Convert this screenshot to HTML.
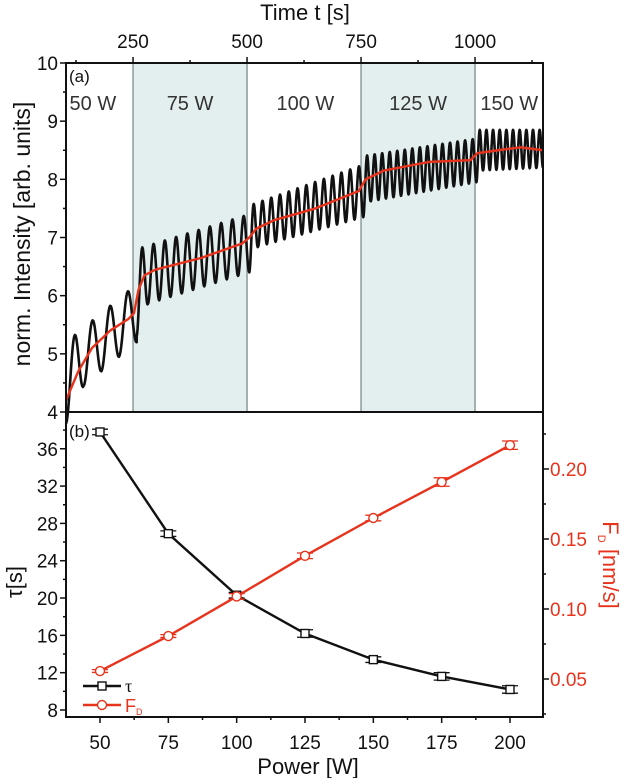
<!DOCTYPE html>
<html><head><meta charset="utf-8"><style>
html,body{margin:0;padding:0;background:#fff;}
svg{display:block;font-family:"Liberation Sans",Arial,sans-serif;}
</style></head><body>
<svg id="chart" width="630" height="778" viewBox="0 0 630 778" xmlns="http://www.w3.org/2000/svg">
<g id="topPanel"></g>
<g id="botPanel"></g>
</svg>
<script>
// ---------- Panel (a) data ----------
const regionStarts = [250, 750];
const regionEnds = [500, 1000];
const dividerTimes = [250, 500, 750, 1000];
const powerLabels = ["50 W", "75 W", "100 W", "125 W", "150 W"];
const powerLabelTimes = [162, 375, 628, 875, 1075];
const timeTicks = [250, 500, 750, 1000];
const intensityTicks = [4, 5, 6, 7, 8, 9, 10];
// oscillation segments
const segStart = [103, 258, 505, 755, 1003];
const segEnd = [258, 505, 755, 1003, 1149];
const segCycles = [4, 10, 13, 15, 10];
const entryLow = [3.8, 5.3, 6.4, 7.35, 7.95];
const lowerStart = [4.2, 5.8, 6.8, 7.6, 8.15];
const lowerEnd = [5.2, 6.4, 7.35, 7.95, 8.2];
const upperStart = [5.2, 6.8, 7.55, 8.4, 8.85];
const upperEnd = [6.2, 7.4, 8.25, 8.7, 8.85];
// mean (red) curve
const meanTimes = [103,130,160,200,240,252,262,275,300,400,490,505,520,560,650,745,760,800,900,990,1005,1050,1100,1149];
const meanVals = [4.2,4.7,5.1,5.4,5.6,5.7,6.1,6.35,6.45,6.65,6.9,7.0,7.15,7.3,7.5,7.8,8.0,8.15,8.3,8.33,8.45,8.5,8.55,8.5];

// ---------- Panel (b) data ----------
const powers = [50, 75, 100, 125, 150, 175, 200];
const tauVals = [37.8, 26.9, 20.3, 16.2, 13.4, 11.6, 10.2];
const tauErr = [0.3, 0.3, 0.3, 0.4, 0.3, 0.4, 0.4];
const fdVals = [0.0557, 0.0807, 0.109, 0.138, 0.165, 0.1907, 0.217];
const fdErr = [0.001, 0.001, 0.002, 0.002, 0.002, 0.003, 0.003];
const powerTicks = [50, 75, 100, 125, 150, 175, 200];
const tauTicks = [8, 12, 16, 20, 24, 28, 32, 36];
const fdTicks = [0.05, 0.10, 0.15, 0.20];

const NS = "http://www.w3.org/2000/svg";
const RED = "#e8331c";
const L = 66, R = 543, TT = 63, TB = 412, BB = 717;
const FS = 19;
function el(parent, tag, attrs, text){
  const e = document.createElementNS(NS, tag);
  for (const k in attrs) e.setAttribute(k, attrs[k]);
  if (text !== undefined) e.textContent = text;
  parent.appendChild(e);
  return e;
}
const xT = t => L + (t - 103) * (R - L) / (1149 - 103);
const yI = v => TT + (10 - v) * (TB - TT) / 6;
const xP = p => 100 + (p - 50) * (510 - 100) / 150;
const yTau = v => 710 - (v - 8) * 9.33;
const yFD = v => 679 - (v - 0.05) * 1400;

const topG = document.getElementById('topPanel');
const botG = document.getElementById('botPanel');

regionStarts.forEach((s, i) => {
  const r = el(topG, 'rect', {x: xT(s), y: TT, width: xT(regionEnds[i]) - xT(s), height: TB - TT, fill: '#e3efee'});
  
  
});
dividerTimes.forEach((t, i) => {
  const l = el(topG, 'line', {x1: xT(t), x2: xT(t), y1: TT, y2: TB, stroke: '#8a9a9c', 'stroke-width': 1.5});
  
  
});
powerLabels.forEach((s, i) => {
  const t = el(topG, 'text', {x: xT(powerLabelTimes[i]), y: 110, 'font-size': 20, fill: '#333', 'text-anchor': 'middle'}, s);
  
  
});
let d = '';
segStart.forEach((t0, i) => {
  const t1 = segEnd[i], n = segCycles[i], N = n * 24;
  for (let k = 0; k <= N; k++) {
    const f = k / N, t = t0 + f * (t1 - t0);
    let lo = lowerStart[i] + f * (lowerEnd[i] - lowerStart[i]);
    const w = Math.max(0, 1 - f * n);
    lo = lo * (1 - w) + entryLow[i] * w;
    const hi = upperStart[i] + f * (upperEnd[i] - upperStart[i]);
    const v = (lo + hi) / 2 - (hi - lo) / 2 * Math.cos(2 * Math.PI * n * f);
    d += (d ? 'L' : 'M') + xT(t).toFixed(2) + ',' + yI(v).toFixed(2);
  }
});
const osc = el(topG, 'path', {d: d, fill: 'none', stroke: '#111', 'stroke-width': 2.6, 'stroke-linejoin': 'round'});


let dm = meanTimes.map((t, i) => (i ? 'L' : 'M') + xT(t).toFixed(2) + ',' + yI(meanVals[i]).toFixed(2)).join('');
const mean = el(topG, 'path', {d: dm, fill: 'none', stroke: RED, 'stroke-width': 2.4, 'stroke-linejoin': 'round'});


const fr = el(topG, 'path', {d: `M${L},${TB}V${TT}H${R}V${TB}`, fill: 'none', stroke: '#111', 'stroke-width': 2});


intensityTicks.forEach(v => {
  el(topG, 'line', {x1: L - 6, x2: L, y1: yI(v), y2: yI(v), stroke: '#111', 'stroke-width': 1.5});
  if (v < 10) el(topG, 'line', {x1: L - 3, x2: L, y1: yI(v + 0.5), y2: yI(v + 0.5), stroke: '#111', 'stroke-width': 1.5});
  const t = el(topG, 'text', {x: L - 8, y: yI(v) + 7, 'font-size': FS, 'text-anchor': 'end', fill: '#111'}, String(v));
  
  
});
[125, 250, 375, 500, 625, 750, 875, 1000, 1125].forEach(t => {
  const major = timeTicks.includes(t);
  el(topG, 'line', {x1: xT(t), x2: xT(t), y1: TT - (major ? 6 : 3), y2: TT, stroke: '#111', 'stroke-width': 1.5});
});
timeTicks.forEach(t => {
  const tx = el(topG, 'text', {x: xT(t), y: 48, 'font-size': FS, 'text-anchor': 'middle', fill: '#111'}, String(t));
  
  
});
const tt = el(topG, 'text', {x: 305, y: 20, 'font-size': 22, 'text-anchor': 'middle', fill: '#111'}, 'Time t [s]');


const yt = el(topG, 'text', {x: 0, y: 0, 'font-size': 23, 'text-anchor': 'middle', fill: '#111', transform: 'translate(30,234) rotate(-90)'}, 'norm. Intensity [arb. units]');


const pa = el(topG, 'text', {x: 69, y: 82, 'font-size': 17, fill: '#111'}, '(a)');



function series(vals, errs, yf, color, marker, name){
  const g = el(botG, 'g', {});
  
  
  const dd = powers.map((p, i) => (i ? 'L' : 'M') + xP(p) + ',' + yf(vals[i]).toFixed(2)).join('');
  el(g, 'path', {d: dd, fill: 'none', stroke: color, 'stroke-width': 2.4});
  powers.forEach((p, i) => {
    const x = xP(p), y = yf(vals[i]), ya = yf(vals[i] + errs[i]), yb = yf(vals[i] - errs[i]);
    el(g, 'path', {d: `M${x},${ya}V${yb}M${x-8},${ya}H${x+8}M${x-8},${yb}H${x+8}`, stroke: color, 'stroke-width': 1.3, fill: 'none'});
    if (marker === 'sq') el(g, 'rect', {x: x - 4, y: y - 4, width: 8, height: 8, fill: '#fff', stroke: color, 'stroke-width': 1.4});
    else el(g, 'circle', {cx: x, cy: y, r: 4.5, fill: '#fff', stroke: color, 'stroke-width': 1.4});
  });
}
series(tauVals, tauErr, yTau, '#111', 'sq', 'tau-series');
series(fdVals, fdErr, yFD, RED, 'ci', 'fd-series');
const bf = el(botG, 'path', {d: `M${L},${TB}V${BB}H${R}V${TB}H${L}`, fill: 'none', stroke: '#111', 'stroke-width': 2});


tauTicks.forEach(v => {
  el(botG, 'line', {x1: L - 6, x2: L, y1: yTau(v), y2: yTau(v), stroke: '#111', 'stroke-width': 1.5});
  el(botG, 'line', {x1: L - 3, x2: L, y1: yTau(v + 2), y2: yTau(v + 2), stroke: '#111', 'stroke-width': 1.5});
  const t = el(botG, 'text', {x: L - 8, y: yTau(v) + 7, 'font-size': FS, 'text-anchor': 'end', fill: '#111'}, String(v));
  
  
});
[0.025, 0.05, 0.075, 0.1, 0.125, 0.15, 0.175, 0.2, 0.225].forEach(v => {
  const major = fdTicks.some(f => Math.abs(f - v) < 1e-6);
  el(botG, 'line', {x1: R, x2: R + (major ? 6 : 3), y1: yFD(v), y2: yFD(v), stroke: '#111', 'stroke-width': 1.5});
});
fdTicks.forEach(v => {
  const t = el(botG, 'text', {x: R + 7, y: yFD(v) + 7, 'font-size': FS, fill: RED}, v.toFixed(2));
  
  
});
[50, 62.5, 75, 87.5, 100, 112.5, 125, 137.5, 150, 162.5, 175, 187.5, 200].forEach(p => {
  const major = powerTicks.includes(p);
  el(botG, 'line', {x1: xP(p), x2: xP(p), y1: BB, y2: BB + (major ? 6 : 3), stroke: '#111', 'stroke-width': 1.5});
});
powerTicks.forEach(p => {
  const t = el(botG, 'text', {x: xP(p), y: 749, 'font-size': FS, 'text-anchor': 'middle', fill: '#111'}, String(p));
  
  
});
const px = el(botG, 'text', {x: 308, y: 774, 'font-size': 22, 'text-anchor': 'middle', fill: '#111'}, 'Power [W]');


const ty = el(botG, 'text', {x: 0, y: 0, 'font-size': 22, 'text-anchor': 'middle', fill: '#111', transform: 'translate(22,582) rotate(-90)'}, 'τ[s]');


const fy = el(botG, 'text', {x: 0, y: 0, 'font-size': 22, 'text-anchor': 'middle', fill: RED, transform: 'translate(603,565) rotate(90)'});


el(fy, 'tspan', {}, 'F');
el(fy, 'tspan', {'font-size': 11, dy: 5}, 'D');
el(fy, 'tspan', {dy: -5}, '  [nm/s]');
const pb = el(botG, 'text', {x: 69, y: 437, 'font-size': 17, fill: '#111'}, '(b)');


const lg = el(botG, 'g', {});


el(lg, 'line', {x1: 83, x2: 121, y1: 686, y2: 686, stroke: '#111', 'stroke-width': 2.4});
el(lg, 'rect', {x: 98, y: 682, width: 8, height: 8, fill: '#fff', stroke: '#111', 'stroke-width': 1.4});
el(lg, 'text', {x: 125, y: 692, 'font-size': 18, fill: '#111', 'font-family': '"Liberation Serif",serif'}, 'τ');
el(lg, 'line', {x1: 83, x2: 121, y1: 705, y2: 705, stroke: RED, 'stroke-width': 2.4});
el(lg, 'circle', {cx: 102, cy: 705, r: 4.5, fill: '#fff', stroke: RED, 'stroke-width': 1.4});
const lt = el(lg, 'text', {x: 125, y: 712, 'font-size': 18, fill: RED});
el(lt, 'tspan', {}, 'F');
el(lt, 'tspan', {'font-size': 9, dy: 3}, 'D');
</script>
</body></html>
